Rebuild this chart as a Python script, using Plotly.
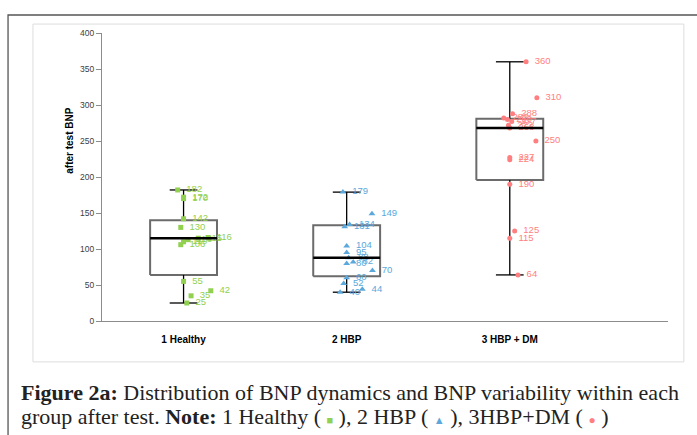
import plotly.graph_objects as go

groups = ["1 Healthy", "2 HBP", "3 HBP + DM"]
y_ticks = [0, 50, 100, 150, 200, 250, 300, 350, 400]

# box statistics
lower = [25, 40, 64]
q1 = [64, 62, 196]
median = [115, 88, 268]
q3 = [140, 133, 281]
upper = [182, 179, 360]

# individual values with horizontal jitter (category units)
healthy_vals = [182, 172, 170, 142, 130, 116, 115, 113, 110, 106, 55, 42, 35, 25]
healthy_jit = [-0.036, 0.0, 0.0, 0.0, -0.017, 0.15, 0.09, 0.028, 0.0, -0.017, 0.0, 0.167, 0.046, 0.02]
hbp_vals = [179, 149, 134, 131, 104, 95, 88, 82, 80, 70, 60, 52, 44, 40]
hbp_jit = [-0.023, 0.155, 0.018, -0.012, 0.0, 0.0, 0.012, 0.04, 0.0, 0.158, 0.0, -0.018, 0.096, -0.04]
dm_vals = [360, 310, 288, 282, 280, 277, 272, 268, 250, 227, 224, 190, 125, 115, 64]
dm_jit = [0.10, 0.166, 0.017, -0.037, -0.014, 0.012, -0.008, 0.0, 0.16, 0.0, 0.0, 0.0, 0.03, 0.0, 0.05]

colors = ["#92D050", "#5AA8DC", "#FF7F80"]
symbols = ["square", "triangle-up", "circle"]
sizes = [5, 6, 5]

HALF = 0.205
CAP = 0.085

fig = go.Figure()

for i in range(3):
    fig.add_trace(go.Scatter(
        x=[i - HALF, i + HALF, i + HALF, i - HALF, i - HALF],
        y=[q1[i], q1[i], q3[i], q3[i], q1[i]],
        mode="lines", line=dict(color="#6b6b6b", width=2),
        hoverinfo="skip", showlegend=False))
    fig.add_trace(go.Scatter(
        x=[i, i, None, i, i, None, i - CAP, i + CAP, None, i - CAP, i + CAP],
        y=[q3[i], upper[i], None, q1[i], lower[i], None, upper[i], upper[i], None, lower[i], lower[i]],
        mode="lines", line=dict(color="#000000", width=1.3),
        hoverinfo="skip", showlegend=False))

vals = [healthy_vals, hbp_vals, dm_vals]
jits = [healthy_jit, hbp_jit, dm_jit]
for i in range(3):
    fig.add_trace(go.Scatter(
        x=[i + j for j in jits[i]], y=vals[i],
        mode="markers+text",
        marker=dict(color=colors[i], symbol=symbols[i], size=sizes[i]),
        text=["\u2009 " + str(v) for v in vals[i]], textposition="middle right",
        textfont=dict(color=colors[i], size=9.5, family="Liberation Sans"),
        showlegend=False))

for i in range(3):
    fig.add_trace(go.Scatter(
        x=[i - HALF, i + HALF], y=[median[i], median[i]],
        mode="lines", line=dict(color="#000000", width=2.5),
        hoverinfo="skip", showlegend=False))

# frames
fig.add_shape(type="rect", xref="paper", yref="paper",
              x0=-0.122, x1=1.028, y0=-0.142, y1=1.031,
              line=dict(color="#dddddd", width=1), layer="below")
fig.add_shape(type="rect", xref="paper", yref="paper",
              x0=-0.166, x1=1.08, y0=-0.45, y1=1.0625,
              line=dict(color="#555555", width=1.3), layer="below")

fig.add_annotation(text="<b>after test BNP</b>", xref="paper", yref="y",
                   x=-0.072, y=250, textangle=-90, showarrow=False,
                   font=dict(size=10, family="Liberation Sans", color="#000000"))

cap_font = "Liberation Serif"
fig.add_annotation(
    text="<b>Figure 2a:</b> Distribution of BNP dynamics and BNP variability within each",
    xref="paper", yref="paper", x=-0.147, y=-0.247, xanchor="left", yanchor="middle",
    showarrow=False, font=dict(size=22, family=cap_font, color="#222222"))
fig.add_annotation(
    text=("group after test. <b>Note:</b> 1 Healthy ( <span style='color:#92D050;font-size:11px'>■</span> ), "
          "2 HBP ( <span style='color:#5AA8DC;font-size:11px'>▲</span> ), "
          "3HBP+DM ( <span style='color:#FF7F80;font-size:12px'>●</span> )"),
    xref="paper", yref="paper", x=-0.147, y=-0.33, xanchor="left", yanchor="middle",
    showarrow=False, font=dict(size=22, family=cap_font, color="#222222"))

fig.update_layout(
    width=697, height=435,
    margin=dict(l=102, r=29, t=33, b=114),
    paper_bgcolor="white", plot_bgcolor="white",
    xaxis=dict(range=[-0.5, 2.97], tickvals=[0, 1, 2],
               ticktext=["<b>%s</b>" % g for g in groups],
               tickfont=dict(size=10, family="Liberation Sans", color="#000000"),
               showline=True, linecolor="#8c8c8c", linewidth=1,
               ticks="", showgrid=False, zeroline=False, ticklabelstandoff=9),
    yaxis=dict(range=[0, 400], tickvals=y_ticks,
               tickfont=dict(size=8.5, family="Liberation Sans", color="#404040"),
               showline=True, linecolor="#8c8c8c", linewidth=1,
               ticks="outside", ticklen=5, tickcolor="#8c8c8c",
               showgrid=False, zeroline=False),
)

fig.write_html("out.html")
